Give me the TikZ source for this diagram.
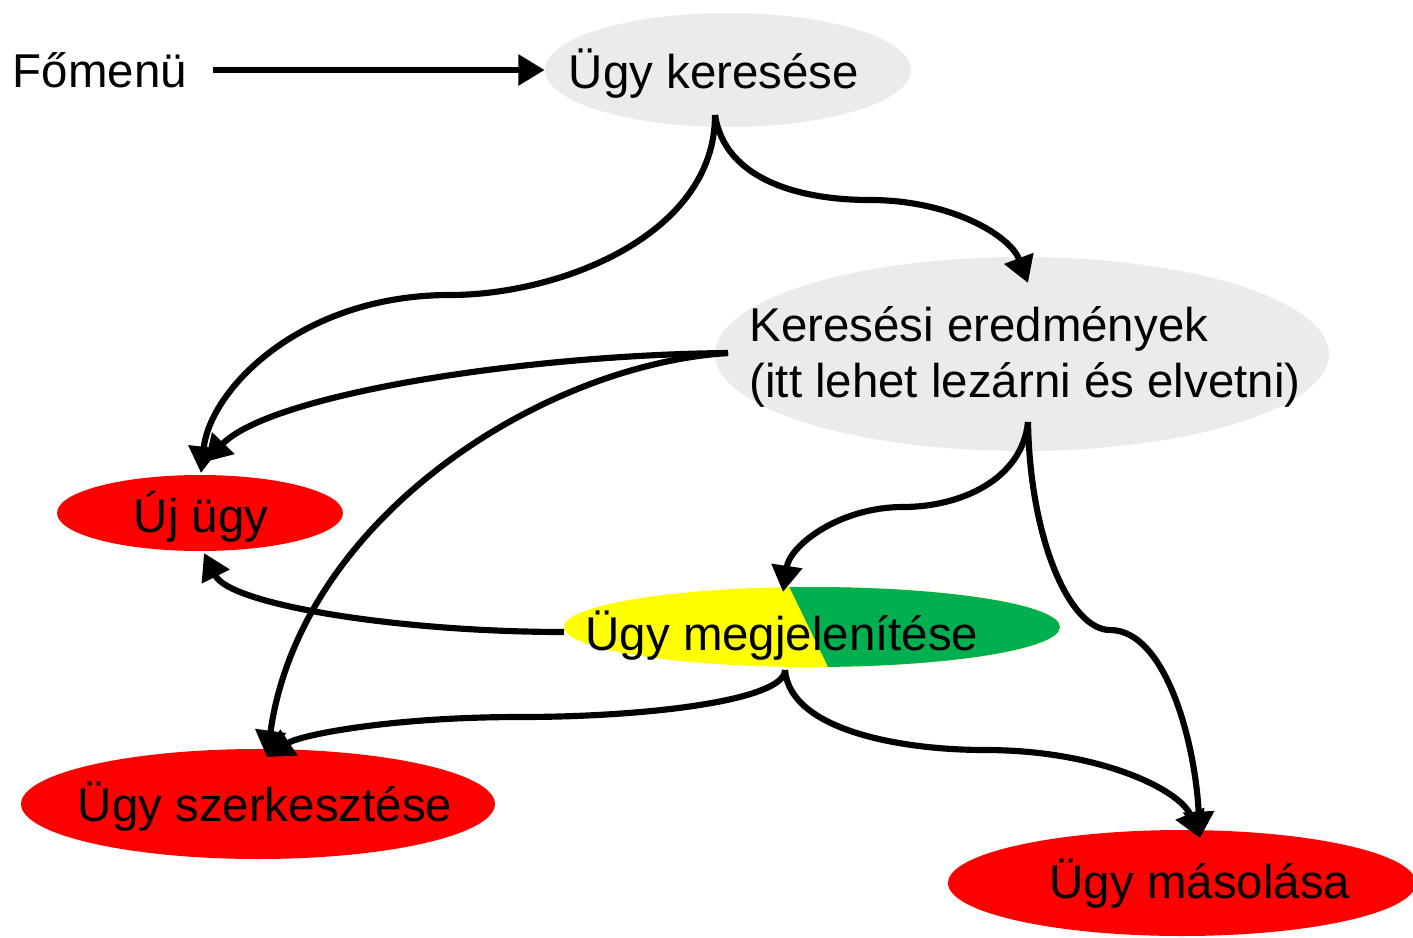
\documentclass[tikz,border=0pt]{standalone}
\usepackage{fontspec}
\setmainfont{Liberation Sans}
\usetikzlibrary{shapes.geometric,arrows.meta}
\definecolor{lgrey}{RGB}{235,235,235}
\definecolor{ured}{RGB}{255,0,0}
\definecolor{uyellow}{RGB}{255,255,0}
\definecolor{ugreen}{RGB}{0,176,80}

\tikzset{
  blob/.style={ellipse, inner sep=0pt},
  flow/.style={line width=3.5pt, -{Triangle[length=15pt,width=17pt]}},
  lbl/.style={font=\fontsize{27}{31.8}\selectfont, inner sep=0pt, anchor=base}
}

\begin{document}
\begin{tikzpicture}[x=0.02cm,y=-0.02cm]
        \useasboundingbox (0,0) rectangle (1413,937);

        % Ellipses
        \node[blob, fill=lgrey, minimum width=7.32cm, minimum height=2.28cm] (kereses) at (728,70) {};
        \node[blob, fill=lgrey, minimum width=12.28cm, minimum height=3.88cm] (eredmeny) at (1022,354) {};
        \node[blob, fill=ured, minimum width=5.72cm, minimum height=1.52cm] (ujugy) at (200,513) {};
        \node[blob, fill=uyellow, minimum width=9.92cm, minimum height=1.6cm] (megjel) at (812,627) {};
        \node[blob, fill=ured, minimum width=9.48cm, minimum height=2.2cm] (szerk) at (258,804) {};
        \node[blob, fill=ured, minimum width=9.36cm, minimum height=2.12cm] (masol) at (1182,883) {};

        % green half of the view ellipse
        \begin{scope}
          \clip (812,627) ellipse [x radius=4.96cm, y radius=0.8cm];
          \fill[ugreen] (786,580) -- (832,675) -- (1070,675) -- (1070,580) -- cycle;
        \end{scope}

        % Labels
        \node[lbl] (fomenu) at (100,87) {Főmenü};
        \node[lbl] (kerestxt) at (714,88) {Ügy keresése};
        \node[lbl, align=left, anchor=center] (eredtxt) at (1025,357) {Keresési eredmények\\(itt lehet lezárni és elvetni)};
        \node[lbl] (ujtxt) at (201,532) {Új ügy};
        \node[lbl] (megtxt) at (782,650) {Ügy megjelenítése};
        \node[lbl] (szerktxt) at (265,821) {Ügy szerkesztése};
        \node[lbl] (masoltxt) at (1200,898) {Ügy másolása};

        % Ports
        \coordinate (kerS) at (715,115);
        \coordinate (eredN) at (1028,283);
        \coordinate (eredW) at (728,353);
        \coordinate (eredS) at (1028,422);
        \coordinate (ujN) at (201,473);
        \coordinate (ujNE) at (205,462);
        \coordinate (ujS) at (204,553);
        \coordinate (megN) at (783,592);
        \coordinate (megW) at (564,632);
        \coordinate (megS) at (785,670);
        \coordinate (szerkN) at (267,757);
        \coordinate (masN) at (1200,838);

        % Arrows
        \draw[flow, shorten <=0.52cm] (fomenu.east |- kereses) -- (kereses.west);
        \draw[flow] (kerS) .. controls (715,235) and (560,295) .. (450,295) .. controls (300,295) and (210,390) .. (ujN);
        \draw[flow] (kerS) .. controls (725,180) and (800,200) .. (870,200) .. controls (950,200) and (1010,235) .. (eredN);
        \draw[flow] (eredW) .. controls (520,355) and (270,395) .. (ujNE);
        \draw[flow] (eredW) .. controls (540,365) and (300,520) .. (szerkN);
        \draw[flow] (eredS) .. controls (1022,480) and (960,507) .. (903,507) .. controls (840,507) and (790,545) .. (megN);
        \draw[flow] (eredS) .. controls (1030,540) and (1070,630) .. (1110,630) .. controls (1165,630) and (1195,740) .. (masN);
        \draw[flow] (megW) .. controls (400,632) and (230,605) .. (ujS);
        \draw[flow] (megS) .. controls (785,700) and (650,717) .. (520,717) .. controls (390,717) and (300,735) .. (szerkN);
        \draw[flow] (megS) .. controls (790,730) and (900,750) .. (985,750) .. controls (1100,750) and (1180,790) .. (masN);
    \end{tikzpicture}
\end{document}
